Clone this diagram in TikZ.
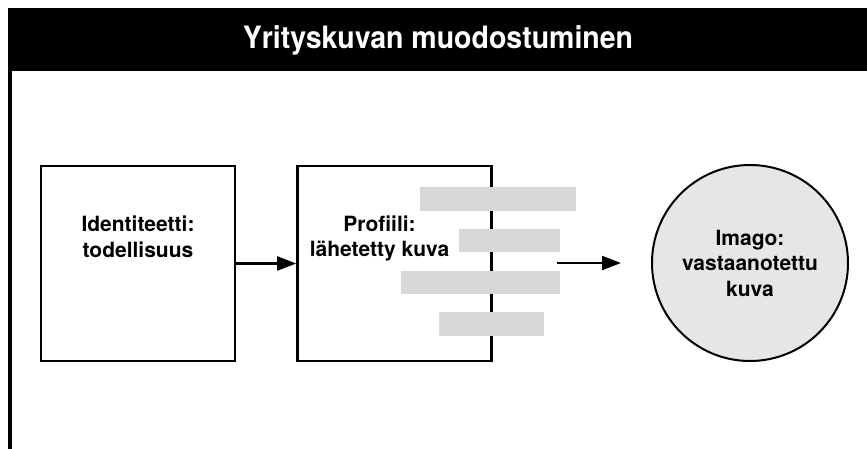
\documentclass[tikz,border=0pt]{standalone}
\usepackage{fontspec}
\setmainfont{TeX Gyre Heros}
\usetikzlibrary{arrows.meta}
\definecolor{bargray}{HTML}{D8D8D9}
\definecolor{circgray}{HTML}{E6E6E7}
\tikzset{
  stagebox/.style={draw=black, line width=2.6pt, minimum width=194pt, minimum height=195pt, inner sep=0pt},
  lbl/.style={font=\bfseries\fontsize{21}{25.5}\selectfont, align=center, inner sep=0pt},
  bar/.style={fill=bargray, draw=none},
  flow/.style={line width=2.3pt, -{Triangle[length=19pt,width=14pt]}},
}
\begin{document}
\begin{tikzpicture}[x=1pt,y=-1pt]
\useasboundingbox (0,0) rectangle (867,448);
\clip (0,0) rectangle (867,448);
% frame
\fill[black] (8,8) rectangle (880,71);
\fill[black] (8,71) rectangle (12,460);
\node[text=white, font=\bfseries\fontsize{28.5}{34}\selectfont] (title) at (438,40) {\scalebox{1}[1.08]{Yrityskuvan muodostuminen}};
% boxes
\node[stagebox] (box1) at (138,263.5) {};
\node[stagebox] (box2) at (394.5,263.5) {};
\node[lbl] (t1) at (138,237) {Identiteetti:\\todellisuus};
\node[lbl] (t2) at (379.5,238.6) {Profiili:\\lähetetty kuva};
% bars over the profile box
\fill[bar] (420,187) rectangle (576,211);
\fill[bar] (459,229) rectangle (560,252);
\fill[bar] (401,271) rectangle (560,294);
\fill[bar] (439,312) rectangle (544,336);
% circle
\node[circle, draw=black, line width=2pt, fill=circgray, minimum size=196pt, inner sep=0pt] (img) at (750,263) {};
\node[lbl] (t3) at (750,263) {Imago:\\vastaanotettu\\kuva};
% arrows
\coordinate (a2s) at (557,263);
\coordinate (a2e) at (621,263);
\draw[flow] (box1.east) -- (box2.west);
\draw[flow] (a2s) -- (a2e);
\end{tikzpicture}
\end{document}
